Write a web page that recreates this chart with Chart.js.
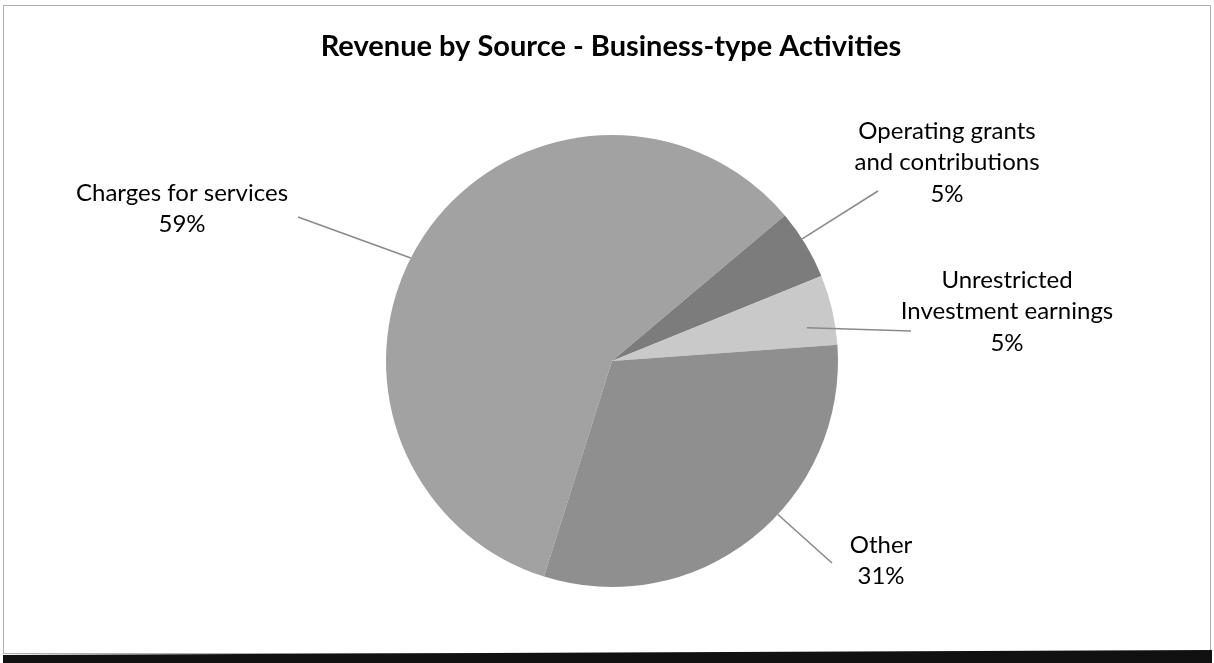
<!DOCTYPE html>
<html>
<head>
<meta charset="utf-8">
<title>Revenue by Source - Business-type Activities</title>
<script src="https://cdn.jsdelivr.net/npm/chart.js@4.4.1/dist/chart.umd.min.js"></script>
<style>
  html, body { margin: 0; padding: 0; background: #ffffff; }
  #wrap { position: relative; width: 1214px; height: 663px; }
</style>
</head>
<body>
<div id="wrap"><canvas id="revenueChart" width="1214" height="663"></canvas></div>
<script>
// revenue shares (percent) by source
const categories = ["Charges for services", "Operating grants and contributions", "Unrestricted Investment earnings", "Other"];
const shares = [59, 5, 5, 31];
const labelLines = [
    ["Charges for services"],
    ["Operating grants", "and contributions"],
    ["Unrestricted", "Investment earnings"],
    ["Other"]
];
const sliceColors = ["#a2a2a2", "#7c7c7c", "#c9c9c9", "#8f8f8f"];

// where each data label sits, relative to the pie centre, and where its leader line meets the slice
const labelLayout = [
    { dx: -430, dy: -168, lead: 0.469, leadR: 1.0, endX: -314, endY: -144 },
    { dx: 335, dy: -230, lead: 0.41, leadR: 1.0, endX: 266, endY: -170 },
    { dx: 395, dy: -81, lead: 0.69, leadR: 0.875, endX: 299, endY: -30 },
    { dx: 269, dy: 184, lead: 0.42, leadR: 1.0, endX: 220, endY: 202 }
];

const FONT = "Lato, 'Open Sans', 'DejaVu Sans', sans-serif";

const pieLabels = {
    id: "pieLabels",
    afterDatasetsDraw(chart) {
        const ctx = chart.ctx;
        const meta = chart.getDatasetMeta(0);
        ctx.save();

        // leader lines first, so text sits on top
        meta.data.forEach((arc, i) => {
            const p = arc.getProps(["x", "y", "startAngle", "endAngle", "outerRadius"], true);
            const lay = labelLayout[i];
            const a = p.startAngle + lay.lead * (p.endAngle - p.startAngle);
            const sx = p.x + Math.cos(a) * p.outerRadius * lay.leadR;
            const sy = p.y + Math.sin(a) * p.outerRadius * lay.leadR;
            ctx.beginPath();
            ctx.moveTo(sx, sy);
            ctx.lineTo(p.x + lay.endX, p.y + lay.endY);
            ctx.strokeStyle = "#8a8a8a";
            ctx.lineWidth = 1.6;
            ctx.stroke();
        });

        ctx.fillStyle = "#000000";
        ctx.textAlign = "center";
        ctx.textBaseline = "middle";
        ctx.font = "24px " + FONT;
        meta.data.forEach((arc, i) => {
            const p = arc.getProps(["x", "y"], true);
            const lay = labelLayout[i];
            const lines = labelLines[i].concat([shares[i] + "%"]);
            lines.forEach((txt, k) => {
                ctx.fillText(txt, p.x + lay.dx, p.y + lay.dy + k * 31.5);
            });
        });

        // chart title
        ctx.font = "bold 29px " + FONT;
        ctx.fillText("Revenue by Source - Business-type Activities", 611, 47);
        ctx.restore();
    }
};

const chartFrame = {
    id: "chartFrame",
    beforeDraw(chart) {
        const ctx = chart.ctx;
        ctx.save();
        ctx.fillStyle = "#ffffff";
        ctx.fillRect(0, 0, chart.width, chart.height);
        ctx.strokeStyle = "#b0b0b0";
        ctx.lineWidth = 1;
        ctx.strokeRect(3.5, 5.5, 1207, 648);
        // heavy dark edge along the bottom
        ctx.fillStyle = "#111111";
        ctx.beginPath();
        ctx.moveTo(3, 655);
        ctx.lineTo(1212, 650);
        ctx.lineTo(1212, 663);
        ctx.lineTo(3, 663);
        ctx.closePath();
        ctx.fill();
        ctx.restore();
    }
};

const ctx = document.getElementById("revenueChart").getContext("2d");
new Chart(ctx, {
    type: "pie",
    data: {
        labels: categories,
        datasets: [{
            data: shares,
            backgroundColor: sliceColors,
            borderWidth: 0
        }]
    },
    options: {
        responsive: false,
        animation: false,
        rotation: 197.5,
        layout: { padding: { top: 135, bottom: 76, left: 10, right: 0 } },
        plugins: {
            legend: { display: false },
            tooltip: { enabled: false },
            title: { display: false }
        }
    },
    plugins: [chartFrame, pieLabels]
});
</script>
</body>
</html>
